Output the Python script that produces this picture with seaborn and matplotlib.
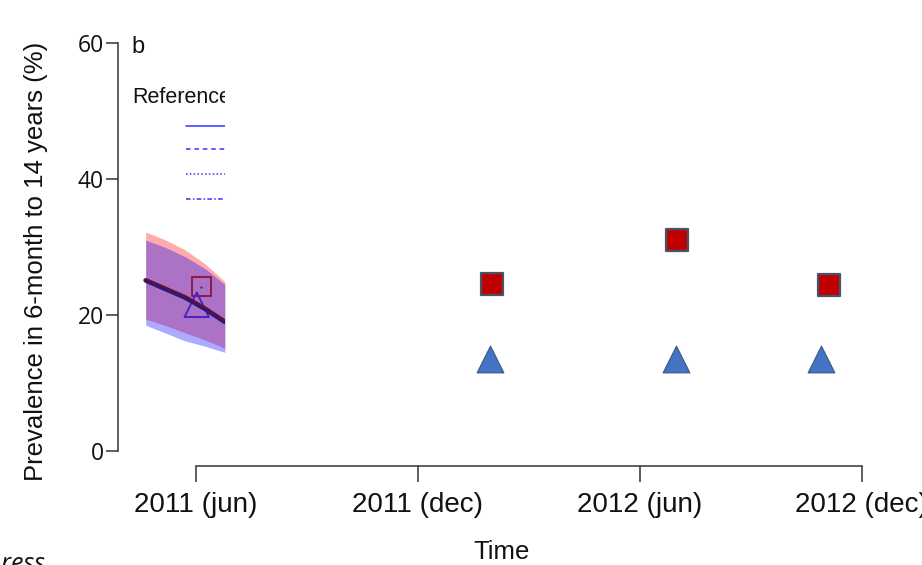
import numpy as np
import pandas as pd
import matplotlib
matplotlib.use("Agg")
import matplotlib.pyplot as plt
from matplotlib.patches import Rectangle
import seaborn as sns

# ---- data -------------------------------------------------------------
# time axis in months since June 2011
tick_months = [0, 6, 12, 18]
tick_labels = ["2011 (jun)", "2011 (dec)", "2012 (jun)", "2012 (dec)"]

# model output (prevalence, %)
model_time = [-1.36, -0.85, -0.30, 0.25, 0.78]
red_upper = [32.2, 31.1, 29.6, 27.5, 24.9]
red_lower = [19.4, 18.5, 17.4, 16.3, 15.1]
blue_upper = [31.0, 30.0, 28.6, 26.8, 24.5]
blue_lower = [18.5, 17.4, 16.2, 15.4, 14.5]
red_median = [25.1, 23.9, 22.6, 20.9, 19.0]
blue_median = [24.9, 23.7, 22.4, 20.7, 18.8]

# survey reference points
ref_square_time = [0.14]
ref_square_prev = [24.15]
ref_triangle_time = [0.02]
ref_triangle_prev = [21.5]

# observed surveys
obs_square_time = [8.0, 13.0, 17.1]
obs_square_prev = [24.6, 31.1, 24.4]
obs_triangle_time = [7.95, 12.97, 16.9]
obs_triangle_prev = [13.6, 13.6, 13.5]

# ---- style ------------------------------------------------------------
sns.set_theme(style="white")
plt.rcParams["font.family"] = ["Liberation Sans", "DejaVu Sans"]

W, H = 922, 565
fig = plt.figure(figsize=(W / 100, H / 100), dpi=100)
left_px, right_px, top_px, bottom_px = 118, 900, 30, 466
ax = fig.add_axes([left_px / W, 1 - bottom_px / H,
                   (right_px - left_px) / W, (bottom_px - top_px) / H])

ax.set_xlim(-2.108, 19.03)
ax.set_ylim(-2.206, 61.91)

# plotting window of the model panel
clip = Rectangle((-10, -10), 10.784, 100, transform=ax.transData)

mdf = pd.DataFrame({"t": model_time, "ru": red_upper, "rl": red_lower,
                    "bu": blue_upper, "bl": blue_lower,
                    "rm": red_median, "bm": blue_median})

f1 = ax.fill_between(mdf["t"], mdf["rl"], mdf["ru"], color=(1, 0, 0), alpha=0.33, lw=0)
f2 = ax.fill_between(mdf["t"], mdf["bl"], mdf["bu"], color=(0, 0, 1), alpha=0.33, lw=0)
sns.lineplot(data=mdf, x="t", y="rm", ax=ax, color="#6a0c3c", lw=3.4)
sns.lineplot(data=mdf, x="t", y="bm", ax=ax, color="#1c1c9c", lw=1.4)
sns.lineplot(data=mdf, x="t", y="rm", ax=ax, color="#222222", lw=0.8, ls=":")

sns.scatterplot(x=ref_square_time, y=ref_square_prev, ax=ax, marker="s", s=185,
                facecolor="none", edgecolor="#8b1a4a", linewidth=1.4)
sns.scatterplot(x=ref_square_time, y=ref_square_prev, ax=ax, marker="o", s=3,
                color="#8b1a4a", linewidth=0)
sns.scatterplot(x=ref_triangle_time, y=ref_triangle_prev, ax=ax, marker="^", s=310,
                facecolor="none", edgecolor="#4a22c8", linewidth=1.4)

# legend of the model panel (key lines, clipped with the panel)
key_y = [0.7805, 0.727, 0.669, 0.6117]
key_styles = ["-", (0, (3, 2.5)), (0, (1, 1.5)), (0, (3, 1.5, 1, 1.5))]
key_lines = []
for yy, st in zip(key_y, key_styles):
    ln, = ax.plot([0.087, 0.2], [yy, yy], transform=ax.transAxes,
                  color="#3333ff", lw=1.1, ls=st)
    key_lines.append(ln)
ref_txt = ax.text((132 - left_px) / (right_px - left_px),
                  (bottom_px - 103) / (bottom_px - top_px),
                  "Reference", transform=ax.transAxes, fontsize=15.5,
                  ha="left", va="baseline", color="#111111")

for art in [f1, f2, ref_txt] + key_lines + list(ax.lines) + list(ax.collections):
    art.set_clip_on(True)
    art.set_clip_path(clip)

# observed survey markers
sns.scatterplot(x=obs_square_time, y=obs_square_prev, ax=ax, marker="s", s=270,
                color="#c00000", edgecolor="#44546a", linewidth=1.6, zorder=5)
sns.scatterplot(x=obs_triangle_time, y=obs_triangle_prev, ax=ax, marker="^", s=370,
                color="#4472c4", edgecolor="#3a5680", linewidth=0.8, zorder=5)

# ---- axes in base-graphics style ---------------------------------------
for s in ["top", "right"]:
    ax.spines[s].set_visible(False)
ax.spines["left"].set_bounds(0, 60)
ax.spines["bottom"].set_bounds(0, 18)
for s in ["left", "bottom"]:
    ax.spines[s].set_color("#333333")
    ax.spines[s].set_linewidth(1.1)

ax.set_xticks(tick_months)
ax.set_xticklabels(tick_labels)
ax.set_yticks([0, 20, 40, 60])
ax.tick_params(axis="x", length=11.5, width=1.1, color="#333333", pad=7,
               labelsize=20, labelcolor="#111111", bottom=True)
ax.tick_params(axis="y", length=8.5, width=1.1, color="#333333", pad=1.8,
               labelsize=16.5, labelcolor="#111111", left=True)
for lab in ax.get_yticklabels():
    lab.set_family(["Open Sans", "DejaVu Sans"])
ax.set_xlabel("")
ax.set_ylabel("")

fig.text(502 / W, 1 - 559 / H, "Time", fontsize=18.5, ha="center", va="baseline",
         color="#111111")
fig.text(36 / W, 1 - 261 / H, "Prevalence in 6-month to 14 years (%)", fontsize=18.5,
         rotation=90, ha="center", va="center", color="#111111")
fig.text(131 / W, 1 - 53 / H, "b", fontsize=17, ha="left", va="baseline",
         color="#111111")
fig.text(45 / W, 1 - 571 / H, "In press", fontsize=18, style="italic",
         ha="right", va="baseline", family=["Open Sans", "DejaVu Sans"],
         color="#111111")

fig.savefig("out.png", dpi=100)
